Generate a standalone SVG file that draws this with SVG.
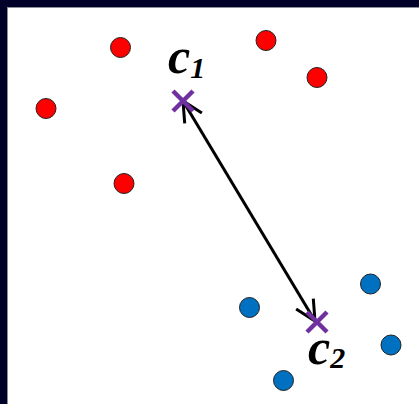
<svg xmlns="http://www.w3.org/2000/svg" width="419" height="404" viewBox="0 0 419 404">
<style>
.red{fill:#FF0000;stroke:#222;stroke-width:1}
.blue{fill:#0070C0;stroke:#222;stroke-width:1}
.cross{stroke:#7030A0;stroke-width:4.5;fill:none}
.lbl{font-family:"Liberation Serif","Times New Roman",serif;font-style:italic;font-weight:bold;fill:#000}
.conn{stroke:#000;stroke-width:3;fill:none}
</style>
<defs>
<marker id="arr" markerUnits="userSpaceOnUse" markerWidth="30" markerHeight="30" viewBox="-25 -15 30 30" refX="0" refY="0" orient="auto-start-reverse">
<path d="M-20,-10 L0,0 L-20,10" fill="none" stroke="#000" stroke-width="3"/>
</marker>
</defs>
<rect x="0" y="0" width="419" height="404" fill="#000028"/>
<rect x="7.5" y="7.5" width="412" height="397" fill="#fff" stroke="#999" stroke-width="0.6"/>
<g id="red1"><circle class="red" cx="120.5" cy="47.5" r="10"/></g>
<g id="red2"><circle class="red" cx="266" cy="40.5" r="10"/></g>
<g id="red3"><circle class="red" cx="317" cy="77.5" r="10"/></g>
<g id="red4"><circle class="red" cx="46" cy="108.5" r="10"/></g>
<g id="red5"><circle class="red" cx="124" cy="183.5" r="10"/></g>
<g id="blue1"><circle class="blue" cx="370.5" cy="284" r="10"/></g>
<g id="blue2"><circle class="blue" cx="249.5" cy="307.5" r="10"/></g>
<g id="blue3"><circle class="blue" cx="391" cy="345" r="10"/></g>
<g id="blue4"><circle class="blue" cx="283.5" cy="380.5" r="10"/></g>
<g id="connectors">
<line class="conn" x1="183" y1="101" x2="315" y2="321" marker-start="url(#arr)" marker-end="url(#arr)"/>
</g>
<g id="c1">
<path class="cross" d="M173,91 L193,111 M193,91 L173,111"/>
<text class="lbl" x="168" y="73" font-size="50">c<tspan font-size="30" dy="5">1</tspan></text>
</g>
<g id="c2">
<path class="cross" d="M307,312 L327,332 M327,312 L307,332"/>
<text class="lbl" x="308" y="364" font-size="50">c<tspan font-size="30" dy="4">2</tspan></text>
</g>
</svg>
